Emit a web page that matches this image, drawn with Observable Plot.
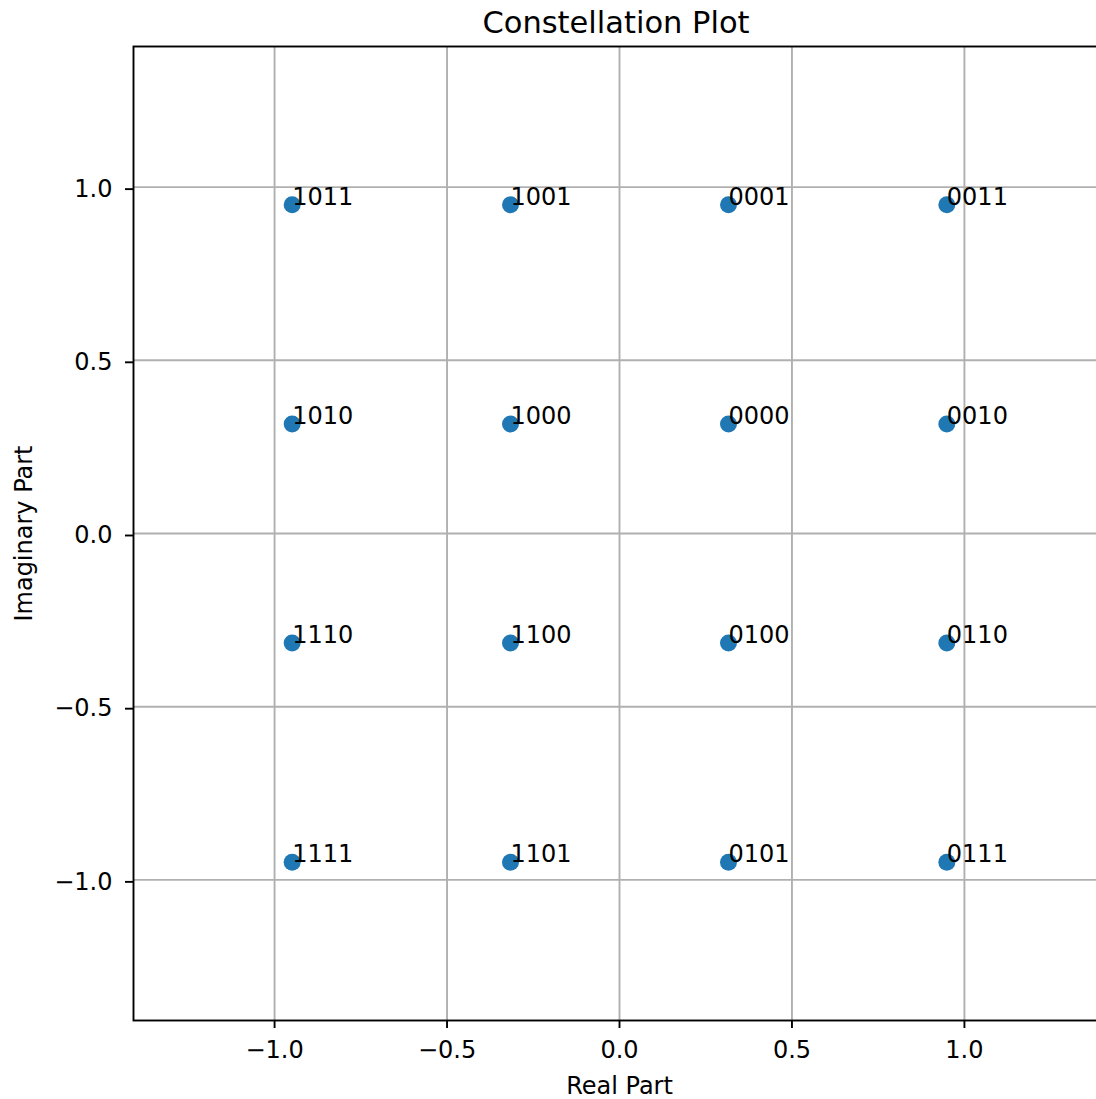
<!DOCTYPE html>
<html>
<head>
<meta charset="utf-8">
<script src="https://cdn.jsdelivr.net/npm/d3@7"></script>
<script src="https://cdn.jsdelivr.net/npm/@observablehq/plot@0.6"></script>
<style>
  html, body { margin: 0; padding: 0; background: #fff; overflow: hidden; }
  body { position: relative; width: 1096px; height: 1099px; font-family: "DejaVu Sans", sans-serif; }
  #title { position: absolute; left: 0; top: 8px; width: 1232px; text-align: center; z-index: 2;
           font-size: 30.5px; line-height: 1; color: #000; white-space: nowrap; }
  #chart { position: absolute; left: 0; top: 0; z-index: 1; }
</style>
</head>
<body>
<div id="chart"></div>
<div id="title">Constellation Plot</div>
<script>
// 16-QAM constellation symbols (bit label, real part, imaginary part)
const symbolLabels = ["1011","1001","0001","0011",
                      "1010","1000","0000","0010",
                      "1110","1100","0100","0110",
                      "1111","1101","0101","0111"];
const realParts = [-0.949,-0.316,0.316,0.949,
                   -0.949,-0.316,0.316,0.949,
                   -0.949,-0.316,0.316,0.949,
                   -0.949,-0.316,0.316,0.949];
const imagParts = [0.949,0.949,0.949,0.949,
                   0.316,0.316,0.316,0.316,
                   -0.316,-0.316,-0.316,-0.316,
                   -0.949,-0.949,-0.949,-0.949];
const tickValues = [-1.0,-0.5,0.0,0.5,1.0];
const xLimit = 1.409;
const yLimit = 1.406;

const points = symbolLabels.map((label, i) => ({label, re: realParts[i], im: imagParts[i]}));

const fmt = d3.format(".1f");
const chart = Plot.plot({
  width: 1110,
  height: 1099,
  marginLeft: 133,
  marginRight: 5,
  marginTop: 46,
  marginBottom: 79,
  style: {fontFamily: "DejaVu Sans, sans-serif", fontSize: "24px", color: "#000",
          background: "transparent", maxWidth: "none", overflow: "visible"},
  x: {domain: [-xLimit, xLimit]},
  y: {domain: [-yLimit, yLimit]},
  marks: [
    Plot.ruleX(tickValues, {stroke: "#b0b0b0", strokeWidth: 1.9}),
    Plot.ruleY(tickValues, {stroke: "#b0b0b0", strokeWidth: 1.9}),
    Plot.axisX({ticks: tickValues, tickFormat: fmt, tickSize: 8, tickPadding: 12,
                strokeWidth: 1.9, fontSize: 24, fill: "#000",
                label: "Real Part", labelAnchor: "center", labelOffset: 73, labelArrow: "none"}),
    Plot.axisY({ticks: tickValues, tickFormat: fmt, tickSize: 8, tickPadding: 13,
                strokeWidth: 1.9, fontSize: 24, fill: "#000", dy: 2,
                label: "Imaginary Part", labelAnchor: "center", labelOffset: 119, labelArrow: "none"}),
    Plot.frame({stroke: "#000", strokeWidth: 1.9}),
    Plot.dot(points, {x: "re", y: "im", r: 8.5, fill: "#1f77b4", stroke: "none"}),
    Plot.text(points, {x: "re", y: "im", text: "label", textAnchor: "start", lineAnchor: "bottom",
                       fontSize: 24, fill: "#000"})
  ]
});
document.getElementById("chart").appendChild(chart);
</script>
</body>
</html>
